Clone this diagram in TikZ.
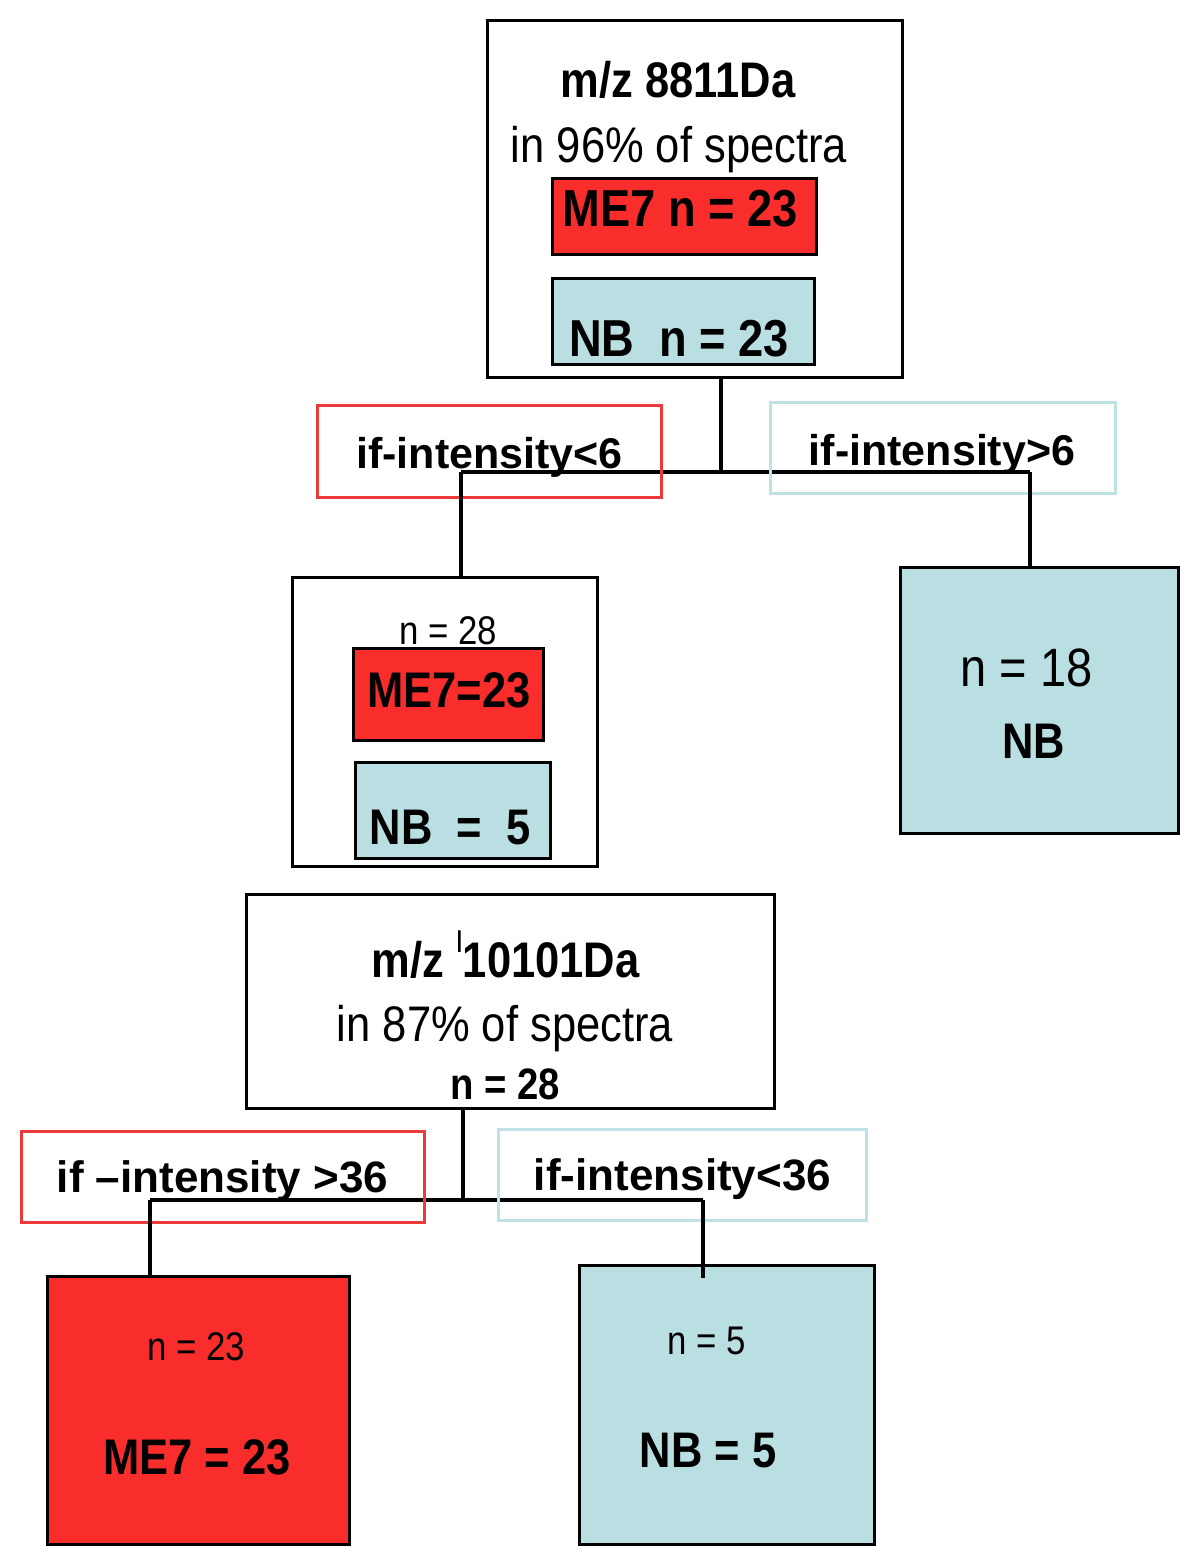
\documentclass[tikz,border=0pt]{standalone}
\usepackage{fontspec}
\setmainfont{Liberation Sans}
\newfontfamily\narrowfont[FakeStretch=0.87]{Liberation Sans}
\usepackage{tikz}
\definecolor{me7red}{RGB}{250,45,45}
\definecolor{nbblue}{RGB}{186,223,227}
\definecolor{redline}{RGB}{236,58,58}
\definecolor{blueline}{RGB}{190,225,229}
\tikzstyle{dtree}=[x=0.5pt, y=-0.5pt, line width=1.5pt]
\tikzstyle{box}=[draw, rectangle, inner sep=0pt, line width=1.5pt]
\tikzstyle{me}=[box, fill=me7red]
\tikzstyle{nb}=[box, fill=nbblue]
\tikzstyle{condred}=[box, draw=redline]
\tikzstyle{condblue}=[box, draw=blueline]
\tikzstyle{bigtext}=[anchor=base, inner sep=0pt, font=\narrowfont\fontsize{25}{30}\selectfont]
\tikzstyle{bigbold}=[anchor=base, inner sep=0pt, font=\narrowfont\bfseries\fontsize{25}{30}\selectfont]
\tikzstyle{smalltext}=[anchor=base, inner sep=0pt, font=\narrowfont\fontsize{20}{24}\selectfont]
\tikzstyle{condtext}=[anchor=base, inner sep=0pt, font=\bfseries\fontsize{21.5}{26}\selectfont]
\tikzstyle{pipe}=[-, line width=1.7pt]

\begin{document}
\begin{tikzpicture}[dtree]
\useasboundingbox (0,0) rectangle (1200,1566);

%first split: m/z 8811Da
\draw (694.5,199.5) node[box, minimum width=207.5pt, minimum height=178.5pt] (top) {};
\draw (684,217) node[me, minimum width=132pt, minimum height=38pt] (topme) {};
\draw (683,322) node[nb, minimum width=131pt, minimum height=43pt] (topnb) {};
\draw (678,98) node[bigbold] (topmz) {m/z 8811Da};
\draw (679,163) node[bigtext] (topin) {in 96\% of spectra};
\draw (680,227) node[bigbold, font=\narrowfont\bfseries\fontsize{26}{30}\selectfont] (topmen) {ME7 n = 23};
\draw (679,357) node[bigbold, font=\narrowfont\bfseries\fontsize{26}{30}\selectfont] (topnbn) {NB\ \ n = 23};

\coordinate (j1) at (721,472);
\coordinate (j1l) at (461,472);
\coordinate (j1r) at (1030,472);
\draw[pipe] (top.south -| j1) -- (j1);
\draw[pipe] (j1l) -- (j1r);

%the two branches
\draw (489,452) node[condred, minimum width=172pt, minimum height=46pt] (lab1) {};
\draw (942.5,448.5) node[condblue, minimum width=172.5pt, minimum height=45.5pt] (lab2) {};
\draw (489.5,469) node[condtext] (lab1t) {if-intensity<6};
\draw (942,466) node[condtext] (lab2t) {if-intensity>6};

\draw (444.5,721.5) node[box, minimum width=152.5pt, minimum height=144.5pt] (mid) {};
\draw (448,694) node[me, minimum width=95pt, minimum height=46pt] (midme) {};
\draw (452.5,810) node[nb, minimum width=97.5pt, minimum height=48pt] (midnb) {};
\draw (448.5,644) node[smalltext] (midn) {n = 28};
\draw (449,707) node[bigbold] (midmen) {ME7=23};
\draw (450,844) node[bigbold] (midnbn) {NB\ \ =\ \ 5};
\draw[pipe] (j1l) -- (mid.north -| j1l);

\draw (1039,700) node[nb, minimum width=139pt, minimum height=133pt] (nb18) {};
\draw (1026.5,686) node[bigtext, font=\narrowfont\fontsize{27}{32}\selectfont] (nb18n) {n = 18};
\draw (1033.5,758) node[bigbold] (nb18t) {NB};
\draw[pipe] (j1r) -- (nb18.north -| j1r);

%second split: m/z 10101Da
\draw (510,1001) node[box, minimum width=264pt, minimum height=107pt] (low) {};
\draw (505.5,977) node[bigbold] (lowmz) {m/z \raisebox{.5em}{\normalfont\fontsize{15}{15}\selectfont l}10101Da};
\draw (505,1041) node[bigtext] (lowin) {in 87\% of spectra};
\draw (505.5,1099) node[bigbold, font=\narrowfont\bfseries\fontsize{22}{26}\selectfont] (lown) {n = 28};

\coordinate (j2) at (463,1200);
\coordinate (j2l) at (150,1200);
\coordinate (j2r) at (703,1200);
\draw[pipe] (low.south -| j2) -- (j2);
\draw[pipe] (j2l) -- (j2r);

\draw (222.5,1176.5) node[condred, minimum width=201.5pt, minimum height=45.5pt] (lab3) {};
\draw (682,1174.5) node[condblue, minimum width=184pt, minimum height=45.5pt] (lab4) {};
\draw (222.5,1192) node[condtext, font=\bfseries\fontsize{22}{26}\selectfont] (lab3t) {if --intensity >36};
\draw (682.5,1190) node[condtext, font=\bfseries\fontsize{22}{26}\selectfont] (lab4t) {if-intensity<36};

\draw (198,1410) node[me, minimum width=151pt, minimum height=134pt] (me23) {};
\draw (196.5,1360) node[smalltext] (me23n) {n = 23};
\draw (197,1474) node[bigbold] (me23t) {ME7 = 23};
\draw[pipe] (j2l) -- (me23.north -| j2l);

\draw (726.5,1404.5) node[nb, minimum width=147.5pt, minimum height=139.5pt] (nb5) {};
\draw (707,1354) node[smalltext] (nb5n) {n = 5};
\draw (708,1467) node[bigbold] (nb5t) {NB = 5};
\coordinate (nb5in) at (703,1278);
\draw[pipe] (j2r) -- (nb5in);
\end{tikzpicture}
\end{document}
